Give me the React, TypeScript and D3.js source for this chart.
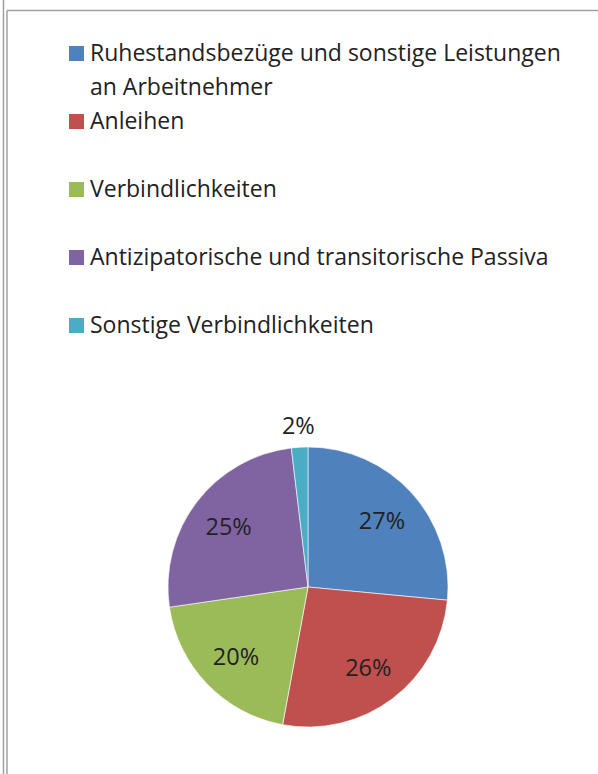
import * as d3 from 'd3';
import { useEffect, useRef } from 'react';

const categories = [
  'Ruhestandsbezüge und sonstige Leistungen an Arbeitnehmer',
  'Anleihen',
  'Verbindlichkeiten',
  'Antizipatorische und transitorische Passiva',
  'Sonstige Verbindlichkeiten',
];
const legendLines = [
  ['Ruhestandsbezüge und sonstige Leistungen', 'an Arbeitnehmer'],
  ['Anleihen'],
  ['Verbindlichkeiten'],
  ['Antizipatorische und transitorische Passiva'],
  ['Sonstige Verbindlichkeiten'],
];
const shares = [26.5, 26.4, 19.8, 25.4, 1.9];
const colors = ['#4F81BD', '#C0504D', '#9BBB59', '#8064A2', '#4BACC6'];

const W = 598;
const H = 774;
const FONT = '"Open Sans", sans-serif';

export default function App() {
  const ref = useRef<SVGSVGElement | null>(null);

  useEffect(() => {
    if (!ref.current) return;
    const svg = d3.select(ref.current);
    svg.selectAll('*').remove();

    // frame lines
    svg.append('line').attr('x1', 3.5).attr('x2', 3.5).attr('y1', 0).attr('y2', H)
      .attr('stroke', '#a0a0a0').attr('stroke-width', 1.5);
    svg.append('line').attr('x1', 7).attr('x2', 7).attr('y1', 10.5).attr('y2', H)
      .attr('stroke', '#a0a0a0').attr('stroke-width', 1.5);
    svg.append('line').attr('x1', 7).attr('x2', W).attr('y1', 10.5).attr('y2', 10.5)
      .attr('stroke', '#a0a0a0').attr('stroke-width', 1.5);

    // legend
    const legend = svg.append('g');
    const rowY = d3.scaleLinear().domain([0, 4]).range([61, 333]);
    legendLines.forEach((lines, i) => {
      const y = rowY(i);
      legend.append('rect').attr('x', 69).attr('y', y - 15).attr('width', 15).attr('height', 15)
        .attr('fill', colors[i]).append('title').text(categories[i]);
      lines.forEach((t, j) => {
        legend.append('text').attr('x', 90).attr('y', y + j * 33.5)
          .attr('font-family', FONT).attr('font-size', 23).attr('fill', '#222222')
          .text(t);
      });
    });

    // pie
    const cx = 308;
    const cy = 587;
    const r = 140;
    const pie = d3.pie<number>().sort(null).value((d) => d);
    const arcs = pie(shares);
    const arc = d3.arc<d3.PieArcDatum<number>>().innerRadius(0).outerRadius(r);
    const g = svg.append('g').attr('transform', `translate(${cx},${cy})`);
    g.selectAll('path').data(arcs).join('path')
      .attr('d', arc)
      .attr('fill', (_, i) => colors[i])
      .attr('stroke', '#ffffff')
      .attr('stroke-width', 0.6);

    const total = d3.sum(shares);
    g.selectAll('text').data(arcs).join('text')
      .attr('transform', (d) => {
        const share = d.value / total;
        const lr = share < 0.05 ? r + 22 : 100;
        const a = (d.startAngle + d.endAngle) / 2;
        return `translate(${lr * Math.sin(a)},${-lr * Math.cos(a)})`;
      })
      .attr('text-anchor', 'middle')
      .attr('dominant-baseline', 'central')
      .attr('font-family', FONT)
      .attr('font-size', 23.5)
      .attr('fill', '#222222')
      .text((d) => `${Math.round((d.value / total) * 100)}%`);
  }, []);

  return (
    <svg
      ref={ref}
      width={W}
      height={H}
      style={{ position: 'absolute', left: 0, top: 0, background: '#ffffff' }}
    />
  );
}
